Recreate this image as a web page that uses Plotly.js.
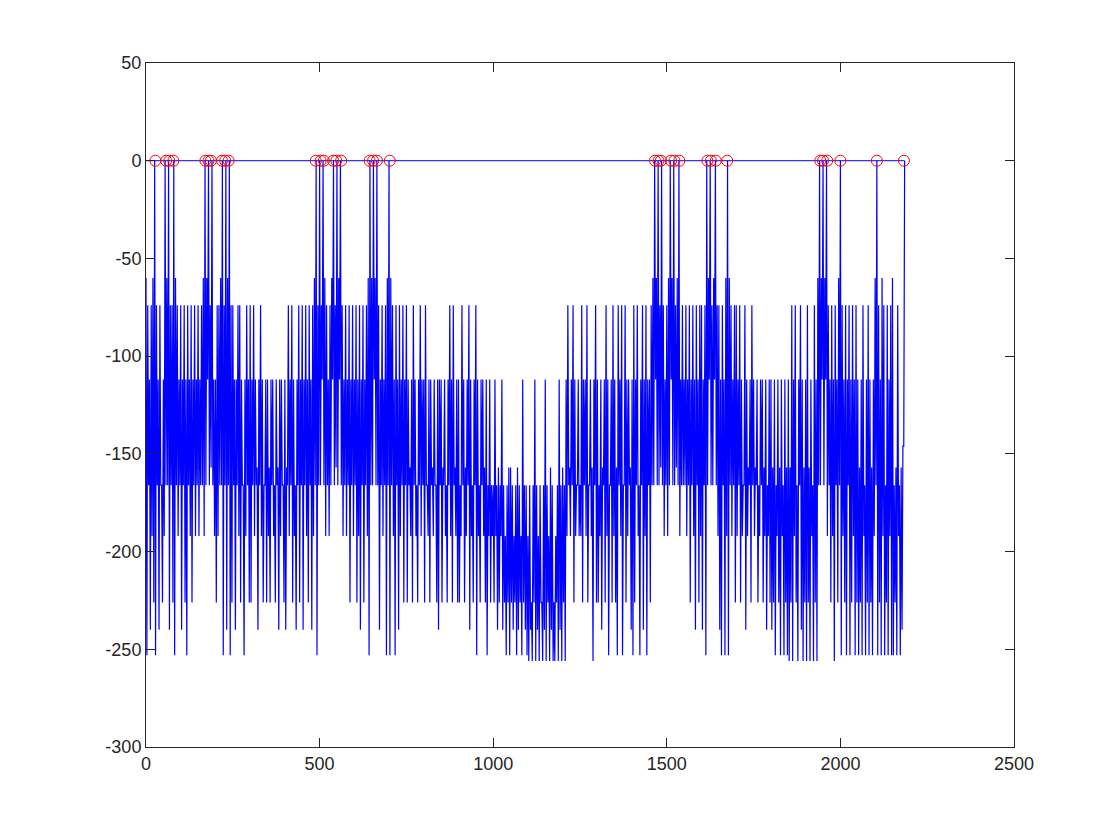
<!DOCTYPE html>
<html>
<head>
<meta charset="utf-8">
<script src="https://cdn.plot.ly/plotly-3.0.1.min.js"></script>
<style>
  html, body { margin: 0; padding: 0; background: #ffffff; }
  #chart { width: 1120px; height: 840px; }
</style>
</head>
<body>
<div id="chart"></div>
<script>
// Signal samples, one every 2.5 index units starting at 0
const sampleStep = 2.5;
const signalY = [
  -60,-253,-74,-166,-112,-240,-74,-192,-60,-226,0,-253,-74,-166,-112,-240,-74,-166,-166,-226,
  -112,-192,0,-166,-60,-166,0,-240,-74,-166,-74,-226,0,-253,-60,-166,-74,-192,-112,-166,
  -74,-240,-112,-166,-74,-226,-112,-253,-74,-166,-112,-192,-74,-226,-112,-166,-74,-192,-112,-166,
  -74,-192,-112,-166,-74,-166,-60,-192,0,-166,-60,-112,0,-166,-74,-157,0,-166,-112,-192,
  -112,-226,-74,-192,-74,-166,-60,-166,0,-253,-74,-166,0,-240,-60,-166,0,-253,-74,-226,
  -74,-166,-112,-240,-112,-166,-74,-192,-74,-226,-112,-166,-166,-253,-112,-192,-74,-166,-112,-226,
  -74,-226,-112,-166,-74,-192,-112,-166,-157,-240,-112,-166,-74,-192,-112,-226,-166,-166,-112,-226,
  -112,-192,-157,-226,-112,-166,-112,-192,-166,-226,-112,-166,-157,-240,-112,-192,-112,-166,-166,-226,
  -112,-240,-157,-166,-74,-192,-112,-166,-74,-226,-112,-192,-166,-240,-112,-166,-74,-226,-112,-166,
  -74,-240,-112,-166,-74,-192,-112,-226,-74,-166,-112,-240,-74,-192,-60,-166,0,-253,-74,-166,
  0,-166,-74,-112,0,-166,-60,-192,-74,-166,-112,-192,-74,-166,-60,-112,0,-166,-74,-157,
  0,-166,-60,-112,0,-166,-74,-192,-112,-166,-74,-192,-112,-166,-74,-226,-112,-166,-74,-192,
  -112,-166,-74,-226,-112,-192,-74,-240,-112,-166,-74,-226,-112,-166,-74,-192,-60,-253,0,-166,
  -60,-166,0,-112,-60,-166,0,-166,-74,-240,-112,-166,-74,-192,-112,-166,-74,-253,-60,-166,
  0,-253,-60,-166,-74,-192,-112,-253,-74,-166,-112,-240,-74,-192,-112,-166,-74,-226,-112,-166,
  -74,-226,-112,-166,-157,-192,-112,-226,-74,-166,-112,-192,-166,-226,-112,-166,-74,-192,-112,-166,
  -112,-226,-74,-166,-166,-192,-112,-226,-112,-166,-157,-192,-112,-166,-166,-226,-112,-240,-112,-166,
  -112,-226,-157,-166,-112,-192,-166,-226,-112,-166,-74,-192,-112,-226,-74,-166,-157,-192,-112,-226,
  -112,-226,-166,-192,-74,-166,-112,-226,-157,-192,-112,-166,-74,-240,-112,-192,-166,-226,-112,-166,
  -74,-253,-112,-192,-166,-226,-112,-166,-112,-192,-157,-226,-112,-253,-166,-192,-112,-226,-166,-192,
  -166,-226,-112,-192,-166,-240,-157,-226,-166,-192,-112,-240,-166,-226,-192,-253,-166,-226,-157,-253,
  -157,-226,-166,-240,-192,-226,-166,-253,-157,-240,-166,-226,-192,-253,-112,-226,-166,-240,-166,-253,
  -192,-256,-166,-240,-226,-256,-166,-226,-112,-256,-166,-240,-192,-256,-166,-226,-226,-256,-166,-240,
  -112,-256,-166,-226,-192,-256,-157,-240,-166,-256,-226,-256,-192,-226,-166,-256,-112,-240,-166,-256,
  -157,-226,-166,-256,-112,-192,-74,-166,-157,-192,-112,-166,-74,-226,-112,-192,-166,-166,-112,-192,
  -166,-192,-74,-226,-112,-166,-112,-192,-74,-226,-166,-166,-112,-192,-157,-256,-112,-166,-74,-226,
  -112,-226,-166,-192,-112,-240,-157,-166,-112,-226,-74,-192,-112,-253,-166,-166,-112,-226,-74,-192,
  -112,-226,-157,-253,-74,-166,-112,-192,-74,-253,-166,-166,-74,-226,-112,-192,-112,-166,-157,-240,
  -112,-253,-74,-226,-112,-166,-74,-192,-166,-253,-112,-166,-74,-240,-112,-192,-74,-253,-112,-166,
  -112,-226,-74,-166,-60,-166,0,-112,-60,-166,0,-166,-74,-157,0,-166,-74,-192,-112,-166,
  -74,-192,-60,-166,0,-112,-60,-166,0,-166,-74,-157,-60,-166,0,-192,-112,-166,-74,-166,
  -112,-166,-74,-192,-112,-166,-74,-226,-112,-166,-74,-192,-112,-240,-74,-166,-112,-226,-74,-192,
  -74,-240,-112,-166,-74,-253,0,-166,-60,-112,0,-166,-74,-166,-60,-112,0,-166,-74,-192,
  -74,-240,-112,-253,-74,-166,-112,-253,-60,-192,0,-253,-60,-166,-74,-192,-112,-166,-74,-226,
  -74,-192,-112,-166,-74,-226,-112,-192,-166,-166,-74,-240,-112,-192,-157,-166,-112,-226,-74,-166,
  -112,-192,-157,-166,-112,-226,-166,-192,-112,-166,-112,-226,-157,-192,-112,-240,-166,-192,-112,-226,
  -112,-240,-157,-226,-112,-253,-166,-192,-112,-226,-157,-253,-112,-192,-166,-253,-112,-226,-157,-253,
  -112,-256,-157,-226,-74,-256,-112,-192,-74,-226,-166,-256,-112,-166,-74,-240,-112,-256,-157,-226,
  -112,-256,-74,-226,-157,-256,-112,-192,-166,-256,-74,-226,-112,-256,-60,-166,0,-166,-60,-112,
  0,-166,-60,-112,0,-192,-74,-166,-112,-226,-74,-192,-112,-256,-74,-166,-112,-226,-60,-166,
  0,-253,-74,-192,-112,-226,-74,-253,-112,-166,-74,-253,-112,-226,-74,-192,-112,-253,-74,-226,
  -112,-253,-157,-226,-112,-253,-74,-192,-166,-253,-112,-226,-74,-253,-112,-226,-157,-253,-112,-192,
  -60,-166,0,-253,-74,-226,-112,-253,-60,-192,-74,-253,-166,-226,-74,-253,-112,-192,-74,-253,
  -60,-253,-166,-226,-157,-253,-74,-192,-166,-253,-157,-240,-146,-146,0
];
const signalX = signalY.map((_, i) => i * sampleStep);

// Zero reference line
const baselineX = [0, 2185];
const baselineY = [0, 0];

// Detected peaks (red circles)
const peakX = [27,58,67,79,171,180,187,219,228,238,489,503,512,539,548,562,644,654,665,702,
               1466,1476,1483,1512,1522,1536,1617,1627,1641,1674,1942,1950,1962,2000,2105,2183];
const peakY = peakX.map(() => 0);

// Axis ticks
const xTicks = [0, 500, 1000, 1500, 2000, 2500];
const yTicks = [-300, -250, -200, -150, -100, -50, 0, 50];

const axisColor = '#262626';
const traces = [
  { x: baselineX, y: baselineY, type: 'scatter', mode: 'lines',
    line: { color: '#0000ff', width: 1, simplify: false }, hoverinfo: 'skip' },
  { x: signalX, y: signalY, type: 'scatter', mode: 'lines',
    line: { color: '#0000ff', width: 1.2, simplify: false }, hoverinfo: 'skip' },
  { x: peakX, y: peakY, type: 'scatter', mode: 'markers',
    marker: { symbol: 'circle-open', size: 11, color: '#ff0000', line: { width: 1, color: '#ff0000' } },
    hoverinfo: 'skip' }
];

const axisCommon = {
  showgrid: false, zeroline: false, showline: true, mirror: 'ticks',
  linecolor: axisColor, linewidth: 1, ticks: 'inside', ticklen: 9,
  tickcolor: axisColor, tickwidth: 1,
  tickfont: { family: 'Liberation Sans, Arial, Helvetica, sans-serif', size: 18, color: axisColor }
};

const layout = {
  width: 1120, height: 840,
  margin: { l: 146, r: 106, t: 63, b: 93, pad: 0 },
  paper_bgcolor: '#ffffff', plot_bgcolor: '#ffffff',
  showlegend: false,
  xaxis: Object.assign({}, axisCommon, {
    range: [0, 2500], tickvals: xTicks, ticktext: xTicks.map(String)
  }),
  yaxis: Object.assign({}, axisCommon, {
    range: [-300, 50], tickvals: yTicks, ticktext: yTicks.map(String)
  })
};

Plotly.newPlot('chart', traces, layout, { displayModeBar: false, staticPlot: true });
</script>
</body>
</html>
